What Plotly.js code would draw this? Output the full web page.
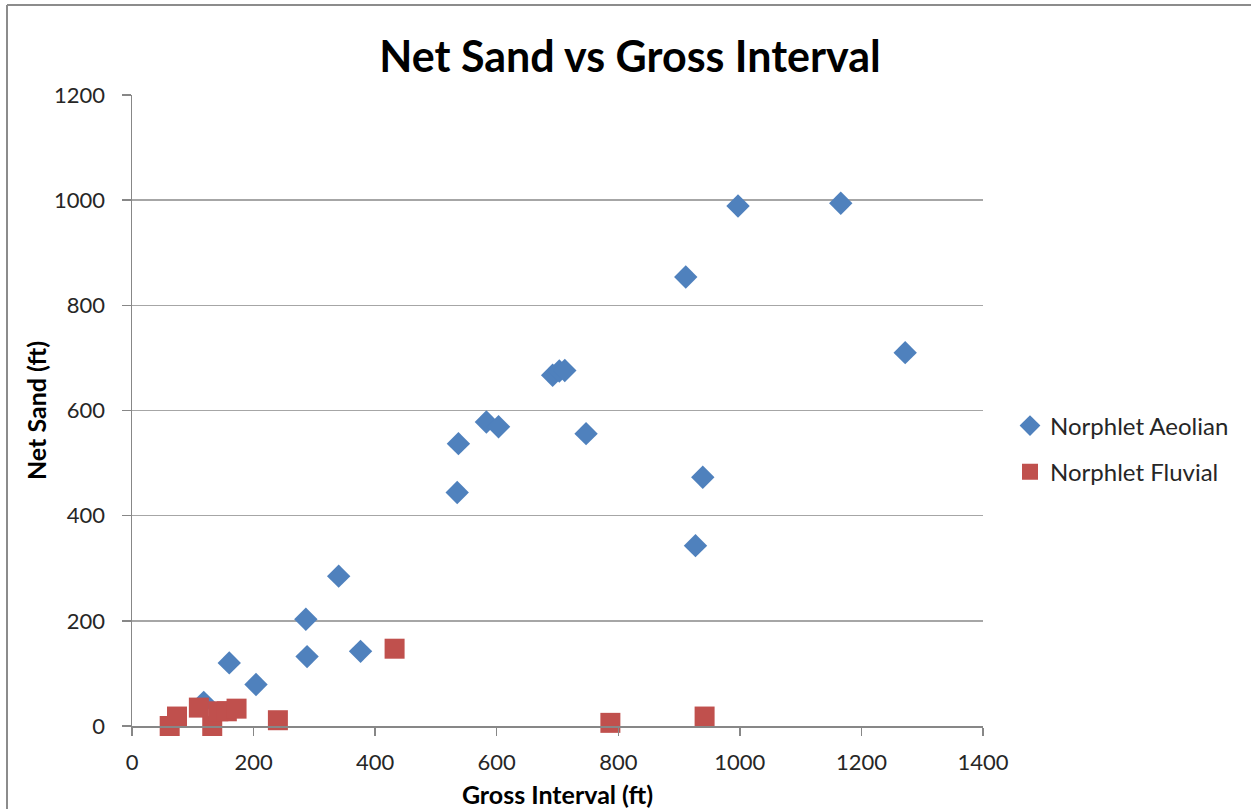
<!DOCTYPE html>
<html>
<head>
<meta charset="utf-8">
<script src="https://cdn.plot.ly/plotly-3.0.1.min.js"></script>
<style>
html,body{margin:0;padding:0;background:#fff;}
#chart{width:1251px;height:809px;}
</style>
</head>
<body>
<div id="chart"></div>
<script>
// Norphlet Aeolian (blue diamonds)
const aeolianGross = [118, 160, 204, 286, 288, 340, 376, 535, 537, 583, 603, 692, 703, 712, 747, 911, 927, 939, 997, 1166, 1272];
const aeolianNet   = [45, 120, 79, 203, 132, 285, 142, 444, 537, 578, 569, 667, 675, 676, 556, 854, 343, 473, 989, 994, 710];
// Norphlet Fluvial (red squares)
const fluvialGross = [62, 74, 110, 132, 142, 156, 172, 240, 432, 787, 942];
const fluvialNet   = [0, 18, 35, 0, 28, 28, 33, 11, 147, 6, 18];

const xTicks = [0, 200, 400, 600, 800, 1000, 1200, 1400];
const yTicks = [0, 200, 400, 600, 800, 1000, 1200];

const FONT = 'Lato, "Open Sans", sans-serif';

const traces = [
  {
    x: aeolianGross, y: aeolianNet, type: 'scatter', mode: 'markers',
    name: 'Norphlet Aeolian', legendgroup: 'a',
    marker: {symbol: 'diamond', size: 18, color: '#4F81BD', line: {width: 0}},
    cliponaxis: false
  },
  {
    x: fluvialGross, y: fluvialNet, type: 'scatter', mode: 'markers',
    name: 'Norphlet Fluvial', legendgroup: 'f',
    marker: {symbol: 'square', size: 20, color: '#C0504D', line: {width: 0}},
    cliponaxis: false
  }
];

const L = 132, R = 268, T = 95, B = 83;
const pw = 1251 - L - R, ph = 809 - T - B;
const px = v => (v - L) / pw;
const py = v => (809 - B - v) / ph;

const layout = {
  width: 1251, height: 809,
  margin: {l: L, r: R, t: T, b: B, pad: 0},
  paper_bgcolor: '#fff', plot_bgcolor: '#fff',
  font: {family: FONT, color: '#262626'},
  title: {
    text: '<b>Net Sand vs Gross Interval</b>',
    font: {family: FONT, size: 43, color: '#000'},
    x: 630 / 1251, xref: 'container', xanchor: 'center',
    y: 1 - 57 / 809, yref: 'container', yanchor: 'middle'
  },
  xaxis: {
    range: [0, 1400], tickvals: xTicks, ticktext: xTicks.map(String),
    showgrid: false, zeroline: false,
    showline: true, linecolor: '#878787', linewidth: 1.5,
    ticks: 'outside', ticklen: 8, tickcolor: '#878787', tickwidth: 1.5,
    ticklabelstandoff: 8,
    tickfont: {family: FONT, size: 22, color: '#262626'},
    title: {text: '<b>Gross Interval (ft)</b>', font: {family: FONT, size: 25, color: '#000'}, standoff: 12},
    automargin: false
  },
  yaxis: {
    range: [0, 1200], tickvals: yTicks, ticktext: yTicks.map(String),
    showgrid: true, gridcolor: '#A6A6A6', gridwidth: 1.5,
    zeroline: false,
    showline: true, linecolor: '#878787', linewidth: 1.5,
    ticks: 'outside', ticklen: 9, tickcolor: '#878787', tickwidth: 1.5,
    ticklabelstandoff: 12,
    tickfont: {family: FONT, size: 22, color: '#262626'},
    title: {text: '<b>Net Sand (ft)</b>', font: {family: FONT, size: 25, color: '#000'}, standoff: 0},
    automargin: false
  },
  showlegend: true,
  legend: {
    x: px(1010), y: py(449), xanchor: 'left', yanchor: 'middle',
    font: {family: FONT, size: 24, color: '#262626'},
    bgcolor: 'rgba(0,0,0,0)', borderwidth: 0,
    tracegroupgap: 12, itemwidth: 30,
    traceorder: 'grouped'
  },
  shapes: [
    {type: 'line', xref: 'paper', yref: 'paper', x0: px(7), x1: px(7), y0: py(820), y1: py(5),
     line: {color: '#8C8C8C', width: 2}},
    {type: 'line', xref: 'paper', yref: 'paper', x0: px(7), x1: px(1260), y0: py(5), y1: py(5),
     line: {color: '#8C8C8C', width: 2}}
  ]
};

Plotly.newPlot('chart', traces, layout, {displayModeBar: false, staticPlot: true});
</script>
</body>
</html>
